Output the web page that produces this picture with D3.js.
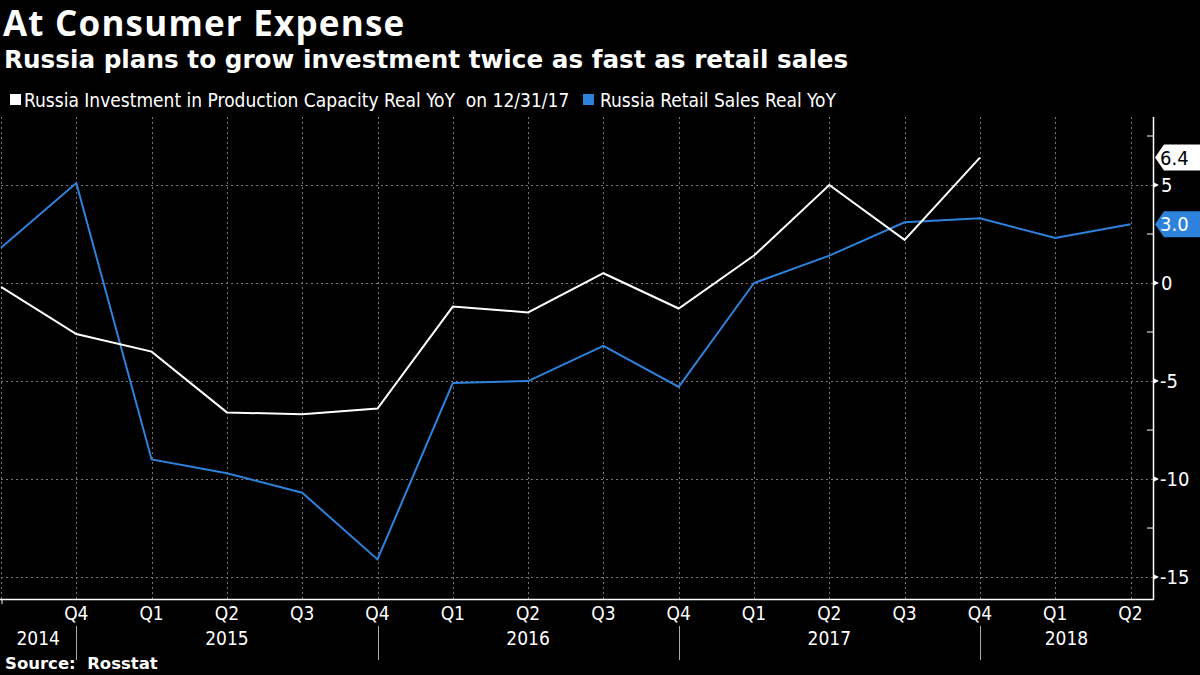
<!DOCTYPE html>
<html><head><meta charset="utf-8">
<script src="https://cdn.jsdelivr.net/npm/d3@7"></script>
<style>
html,body{margin:0;padding:0;background:#000;}
svg{display:block;}
</style></head>
<body>
<svg id="c" width="1200" height="675"></svg>
<script>
const quarters = ["Q3","Q4","Q1","Q2","Q3","Q4","Q1","Q2","Q3","Q4","Q1","Q2","Q3","Q4","Q1","Q2"];
const quarterYears = [2014,2014,2015,2015,2015,2015,2016,2016,2016,2016,2017,2017,2017,2017,2018,2018];
const investment = [-0.2,-2.6,-3.5,-6.6,-6.7,-6.4,-1.2,-1.5,0.5,-1.3,1.4,5.0,2.2,6.4];
const retail = [1.8,5.1,-9.0,-9.7,-10.7,-14.1,-5.1,-5.0,-3.2,-5.3,0.0,1.4,3.1,3.3,2.3,3.0];
const yTicks = [5,0,-5,-10,-15];
const yMinor = [7.5,2.5,-2.5,-7.5,-12.5];
const years = [2014,2015,2016,2017,2018];

const title = "At Consumer Expense";
const subtitle = "Russia plans to grow investment twice as fast as retail sales";
const legend1 = "Russia Investment in Production Capacity Real YoY  on 12/31/17";
const legend2 = "Russia Retail Sales Real YoY";
const source = "Source:  Rosstat";

const BLUE = "#2d82dc";
const condensed = "'Liberation Sans Narrow','Arial Narrow','DejaVu Sans Condensed',sans-serif";
const svg = d3.select("#c");

const L = 1, R = 1153, T = 117, B = 599;
const x = d3.scaleLinear().domain([0, quarters.length-1]).range([L, 1130.5]);
const y = d3.scaleLinear().domain([-16.12, 8.47]).range([B, T]);

// titles
svg.append("text").attr("x",3).attr("y",36).attr("fill","#fff")
  .attr("font-family","'Open Sans',sans-serif").attr("font-weight",700).attr("font-size",35)
  .attr("letter-spacing",1.2).text(title);
svg.append("text").attr("x",4).attr("y",68).attr("fill","#fff")
  .attr("font-family","'DejaVu Sans',sans-serif").attr("font-weight",700).attr("font-size",24.7).text(subtitle);

// legend
const lg = svg.append("g").attr("font-family",condensed).attr("font-size",19).attr("fill","#fff");
lg.append("rect").attr("x",10).attr("y",94).attr("width",11).attr("height",11).attr("fill","#fff");
lg.append("text").attr("x",24).attr("y",107).attr("xml:space","preserve").style("white-space","pre").text(legend1);
lg.append("rect").attr("x",583).attr("y",94).attr("width",11).attr("height",11).attr("fill",BLUE);
lg.append("text").attr("x",600).attr("y",107).text(legend2);

// gridlines
const grid = svg.append("g").attr("stroke","#777").attr("stroke-width",1).attr("stroke-dasharray","2,3");
grid.selectAll("line.h").data(yTicks).join("line")
  .attr("x1",L).attr("x2",R).attr("y1",d=>Math.round(y(d))+0.5).attr("y2",d=>Math.round(y(d))+0.5);
grid.selectAll("line.v").data(d3.range(quarters.length)).join("line")
  .attr("y1",T).attr("y2",B).attr("x1",d=>Math.round(x(d))+0.5).attr("x2",d=>Math.round(x(d))+0.5);

// right axis
const ax = svg.append("g");
ax.append("line").attr("x1",R+0.5).attr("x2",R+0.5).attr("y1",T).attr("y2",B+1).attr("stroke","#fff").attr("stroke-width",1.5);
ax.selectAll("line.minor").data(yMinor).join("line")
  .attr("x1",R-6).attr("x2",R).attr("y1",d=>y(d)).attr("y2",d=>y(d)).attr("stroke","#fff").attr("stroke-width",1);
ax.selectAll("path.major").data(yTicks).join("path")
  .attr("d",d=>`M${R},${y(d)-3}L${R+6},${y(d)}L${R},${y(d)+3}Z`).attr("fill","#fff");
ax.selectAll("text").data(yTicks).join("text")
  .attr("x",d=>d<0?1160:1161).attr("y",d=>y(d)+7).attr("fill","#fff")
  .attr("font-family",condensed).attr("font-size",20)
  .text(d=>d<0?"-"+Math.abs(d):d);

// bottom axis
const bx = svg.append("g");
bx.append("line").attr("x1",0).attr("x2",R+1).attr("y1",B+0.5).attr("y2",B+0.5).attr("stroke","#fff").attr("stroke-width",1.5);
bx.append("line").attr("x1",2).attr("x2",2).attr("y1",B).attr("y2",B+5).attr("stroke","#fff");
bx.selectAll("text.q").data(quarters.slice(1)).join("text")
  .attr("x",(d,i)=>x(i+1)).attr("y",620).attr("text-anchor","middle").attr("fill","#fff")
  .attr("font-family",condensed).attr("font-size",19).text(d=>d);
const q4idx = quarters.map((q,i)=>q==="Q4"?i:-1).filter(i=>i>=0);
bx.selectAll("line.sep").data(q4idx).join("line")
  .attr("x1",d=>Math.round(x(d))+0.5).attr("x2",d=>Math.round(x(d))+0.5)
  .attr("y1",626).attr("y2",660).attr("stroke","#aaa").attr("stroke-width",1);
const bounds = [0, ...q4idx.map(i=>x(i)), R];
bx.selectAll("text.y").data(years).join("text")
  .attr("x",(d,i)=>(bounds[i]+bounds[i+1])/2).attr("y",645).attr("text-anchor","middle").attr("fill","#fff")
  .attr("font-family",condensed).attr("font-size",19).text(d=>d);

// lines
const line = d3.line().x((d,i)=>x(i)).y(d=>y(d));
svg.append("path").datum(retail).attr("d",line).attr("fill","none").attr("stroke",BLUE).attr("stroke-width",2);
svg.append("path").datum(investment).attr("d",line).attr("fill","none").attr("stroke","#fff").attr("stroke-width",2);

// value badges
function badge(v, bg, fg){
  const cy = y(v);
  const g = svg.append("g");
  g.append("path").attr("d",`M${R+2},${cy}L${R+11},${cy-13}L1200,${cy-13}L1200,${cy+13}L${R+11},${cy+13}Z`).attr("fill",bg);
  g.append("text").attr("x",1160).attr("y",cy+7).attr("fill",fg).attr("font-family",condensed).attr("font-size",20).text(v.toFixed(1));
}
badge(investment[investment.length-1], "#fff", "#000");
badge(retail[retail.length-1], BLUE, "#fff");

// source
svg.append("text").attr("x",5).attr("y",669).attr("fill","#fff")
  .attr("font-family","'DejaVu Sans',sans-serif").attr("font-weight",700).attr("font-size",16.5).attr("xml:space","preserve").text(source);
</script>
</body></html>
